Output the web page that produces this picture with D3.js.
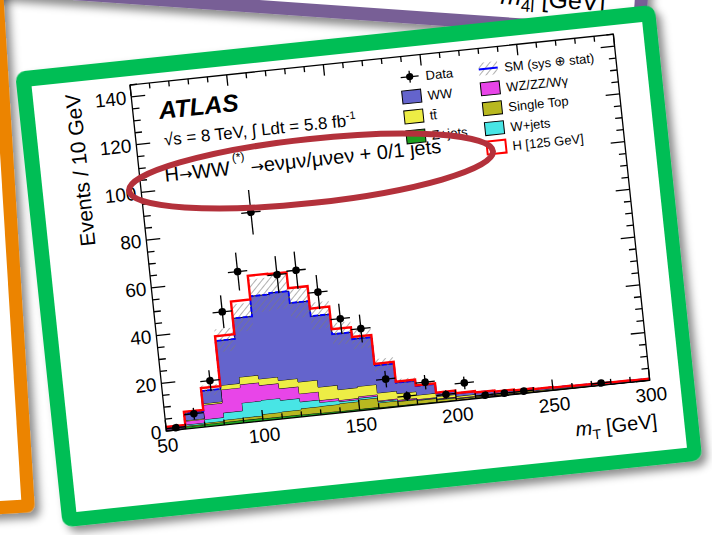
<!DOCTYPE html>
<html>
<head>
<meta charset="utf-8">
<script src="https://cdn.jsdelivr.net/npm/d3@7"></script>
<style>
body{margin:0;background:#fff;overflow:hidden;}
text{font-family:'Liberation Sans',Arial,Helvetica,sans-serif;}
</style>
</head>
<body>
<script>
// m_T bins, 10 GeV wide (low edges)
const binLow = [50,60,70,80,90,100,110,120,130,140,150,160,170,180,190,200,210,220,230,240,250,260,270,280,290];
// backgrounds, bottom of the stack first
const zjets     = [0.3,1.0,1.2,1.2,1.2,1.0,1.0,0.9,0.8,0.7,0.7,0.5,0.5,0.4,0.3,0.2,0.2,0.15,0.1,0.1,0.08,0.07,0.06,0.05,0.05];
const singleTop = [0.1,0.3,0.5,0.9,1.0,1.8,2.0,2.6,2.8,3.2,3.9,2.0,1.7,1.4,0.9,0.6,0.4,0.35,0.3,0.2,0.17,0.13,0.09,0.07,0.05];
const wjets     = [0.2,0.5,1.5,3.0,6.2,5.9,4.8,2.8,1.6,0.8,0.7,0.5,0.2,0.2,0.2,0.1,0.1,0.05,0.05,0.05,0.05,0.02,0.02,0.02,0.02];
const wzzz      = [0.3,1.5,6.0,9.7,7.7,6.2,4.9,3.4,0.9,0.6,0.7,0.4,0.4,0.3,0.2,0.2,0.1,0.1,0.05,0.05,0.05,0.03,0.03,0.02,0.02];
const ttbar     = [0.1,0.3,0.6,1.8,3.1,2.7,3.4,4.9,5.5,4.4,4.2,3.2,2.7,1.7,1.0,0.7,0.6,0.45,0.4,0.3,0.25,0.25,0.2,0.14,0.11];
const ww        = [0.6,3.0,5.3,18.6,24.6,34.6,36.6,33.1,29.7,23.2,19.8,11.5,4.5,3.8,1.4,1.2,1.1,0.9,0.8,0.7,0.6,0.5,0.5,0.5,0.45];
const higgs     = [0.1,0.6,1.2,2.0,7.1,8.6,7.9,6.2,3.2,2.1,0.9,0.7,0.5,0.3,0.2,0.1,0.05,0.05,0,0,0,0,0,0,0];
const smErr     = [0.3,1.0,2.2,4.8,5.8,7.0,7.1,6.5,5.6,4.6,4.2,2.6,1.5,1.2,0.7,0.5,0.45,0.4,0.35,0.3,0.3,0.25,0.25,0.2,0.2];
const dataCounts = [1,6,19,47,63,87,60,61,51,39,34,12,4,9,3,7,1,1,1,0,0,0,1,0,0];

const xTicks = [50,100,150,200,250,300];
const yTicks = [0,20,40,60,80,100,120,140];

const stackKeys = ['zjets','singleTop','wjets','wzzz','ttbar','ww'];
const colors = {zjets:'#1f9f1f', singleTop:'#b8b820', wjets:'#48e5e5', wzzz:'#e845e8', ttbar:'#eded45', ww:'#6464cc'};
const legendCol1 = ['Data','WW','tt\u0304','Z+jets'];
const legendCol2 = ['SM (sys \u2295 stat)','WZ/ZZ/W\u03b3','Single Top','W+jets','H [125 GeV]'];

const W = 712, H = 535;
const svg = d3.select('body').append('svg').attr('width', W).attr('height', H);
const defs = svg.append('defs');

const shadow = defs.append('filter').attr('id','shadow')
    .attr('x','-20%').attr('y','-20%').attr('width','140%').attr('height','140%');
shadow.append('feDropShadow').attr('dx',5).attr('dy',6).attr('stdDeviation',4)
    .attr('flood-color','#000').attr('flood-opacity',0.45);

const hatch = defs.append('pattern').attr('id','hatch').attr('patternUnits','userSpaceOnUse')
    .attr('width',5).attr('height',5).attr('patternTransform','rotate(45)');
hatch.append('line').attr('x1',0).attr('y1',0).attr('x2',0).attr('y2',5)
    .attr('stroke','#7a7a7a').attr('stroke-width',1.2);

//---- purple frame behind (only its lower part shows)
const purple = svg.append('g').attr('transform','translate(645,40) rotate(4)');
purple.append('rect').attr('x',-760).attr('y',-300).attr('width',760).attr('height',300)
    .attr('rx',8).attr('fill','#785f96').attr('filter','url(#shadow)');
purple.append('rect').attr('x',-747).attr('y',-287).attr('width',734).attr('height',274).attr('fill','#fff');
const m4l = purple.append('text').attr('x',-42).attr('y',-26).attr('text-anchor','end')
    .attr('font-size',25).attr('fill','#000');
m4l.append('tspan').attr('font-style','italic').text('m');
m4l.append('tspan').attr('font-size',17).attr('dy',6).text('4l');
m4l.append('tspan').attr('dy',-6).text(' [GeV]');

//---- orange frame on the left
const orange = svg.append('g').attr('transform','translate(35,512) rotate(-3.5)');
orange.append('rect').attr('x',-600).attr('y',-700).attr('width',600).attr('height',700)
    .attr('rx',8).attr('fill','#ec8400').attr('filter','url(#shadow)');
orange.append('rect').attr('x',-587).attr('y',-687).attr('width',574).attr('height',674).attr('fill','#fff');

//---- green frame with the plot, rotated
const plotW = 486, plotH = 348;
const g = svg.append('g').attr('transform','translate(130,85) rotate(-6)');
g.append('rect').attr('x',-113).attr('y',-25).attr('width',643).attr('height',458)
    .attr('rx',10).attr('fill','#00be55').attr('filter','url(#shadow)');
g.append('rect').attr('x',-98).attr('y',-9).attr('width',614).attr('height',428).attr('fill','#fff');

const x = d3.scaleLinear().domain([50,300]).range([0,plotW]);
const y = d3.scaleLinear().domain([0,145]).range([plotH,0]);

const rows = binLow.map((b,i) => ({x:b, zjets:zjets[i], singleTop:singleTop[i], wjets:wjets[i],
    wzzz:wzzz[i], ttbar:ttbar[i], ww:ww[i], higgs:higgs[i], err:smErr[i], data:dataCounts[i]}));
const series = d3.stack().keys(stackKeys)(rows);

// add closing point at the upper edge of the last bin
function closeSteps(pts){ const last = pts[pts.length-1]; return pts.concat([Object.assign({}, last, {x:300})]); }

const area = d3.area().curve(d3.curveStepAfter).x(d => x(d.x)).y0(d => y(d.lo)).y1(d => y(d.hi));
const line = d3.line().curve(d3.curveStepAfter).x(d => x(d.x)).y(d => y(d.v));

const hist = g.append('g');
series.forEach(s => {
    const pts = closeSteps(s.map((d,i) => ({x:binLow[i], lo:d[0], hi:d[1], v:d[1]})));
    hist.append('path').attr('d', area(pts)).attr('fill', colors[s.key]);
    hist.append('path').attr('d', line(pts)).attr('fill','none').attr('stroke','#000').attr('stroke-width',0.9);
});

const smTop = series[series.length-1].map(d => d[1]);
const band = closeSteps(rows.map((r,i) => ({x:r.x, lo:Math.max(0,smTop[i]-r.err), hi:smTop[i]+r.err})));
hist.append('path').attr('d', area(band)).attr('fill','url(#hatch)');
const smPts = closeSteps(rows.map((r,i) => ({x:r.x, v:smTop[i]})));
hist.append('path').attr('d', line(smPts)).attr('fill','none').attr('stroke','#0000ff')
    .attr('stroke-width',1.8).attr('stroke-dasharray','5,2');
const totPts = closeSteps(rows.map((r,i) => ({x:r.x, v:smTop[i]+r.higgs})));
hist.append('path').attr('d', line(totPts)).attr('fill','none').attr('stroke','#ff0000').attr('stroke-width',2.4);

// data points
const pts = g.append('g').selectAll('g').data(rows.filter(r => r.data > 0)).enter().append('g');
pts.append('line').attr('x1', d => x(d.x)).attr('x2', d => x(d.x+10))
    .attr('y1', d => y(d.data)).attr('y2', d => y(d.data)).attr('stroke','#000').attr('stroke-width',1.3);
pts.append('line').attr('x1', d => x(d.x+5)).attr('x2', d => x(d.x+5))
    .attr('y1', d => y(d.data - Math.sqrt(d.data))).attr('y2', d => y(d.data + Math.sqrt(d.data)))
    .attr('stroke','#000').attr('stroke-width',1.3);
pts.append('circle').attr('cx', d => x(d.x+5)).attr('cy', d => y(d.data)).attr('r',3.8).attr('fill','#000');

// frame and ticks
const ax = g.append('g').attr('stroke','#000').attr('stroke-width',1.3);
ax.append('rect').attr('width',plotW).attr('height',plotH).attr('fill','none');
d3.range(50,301,10).forEach(v => {
    const len = v % 50 === 0 ? 11 : 5.5;
    ax.append('line').attr('x1',x(v)).attr('x2',x(v)).attr('y1',plotH).attr('y2',plotH-len);
    ax.append('line').attr('x1',x(v)).attr('x2',x(v)).attr('y1',0).attr('y2',len);
});
d3.range(0,146,5).forEach(v => {
    const len = v % 20 === 0 ? 14 : 7;
    ax.append('line').attr('x1',0).attr('x2',len).attr('y1',y(v)).attr('y2',y(v));
    ax.append('line').attr('x1',plotW).attr('x2',plotW-len).attr('y1',y(v)).attr('y2',y(v));
});

g.selectAll('.xl').data(xTicks).enter().append('text').attr('class','xl')
    .attr('x', d => x(d)).attr('y', plotH+21).attr('text-anchor','middle').attr('font-size',19).text(d => d);
g.selectAll('.yl').data(yTicks).enter().append('text').attr('class','yl')
    .attr('x', -5).attr('y', d => y(d)+7).attr('text-anchor','end').attr('font-size',19).text(d => d);

g.append('text').attr('transform','translate(-51,3) rotate(-90)').attr('text-anchor','end')
    .attr('font-size',21).text('Events / 10 GeV');
const xt = g.append('text').attr('x',489).attr('y',396).attr('text-anchor','end').attr('font-size',20);
xt.append('tspan').attr('font-style','italic').text('m');
xt.append('tspan').attr('font-size',14).attr('dy',5).text('T');
xt.append('tspan').attr('dy',-5).text(' [GeV]');

// labels
g.append('text').attr('x',26).attr('y',37).attr('font-size',24.5).attr('font-weight','bold')
    .attr('font-style','italic').text('ATLAS');
const l2 = g.append('text').attr('x',28).attr('y',64).attr('font-size',17);
l2.append('tspan').text('\u221As = 8 TeV, \u222B Ldt = 5.8 fb');
l2.append('tspan').attr('font-size',11).attr('dy',-7).text('-1');
const l3 = g.append('text').attr('x',25).attr('y',100).attr('font-size',20);
l3.append('tspan').text('H');
l3.append('tspan').attr('font-family','DejaVu Sans').attr('font-size',16).text('\u2192');
l3.append('tspan').text('WW');
l3.append('tspan').attr('font-size',12).attr('dy',-13).attr('dx',3).text('(*)');
l3.append('tspan').attr('dy',13).attr('dx',5).attr('font-family','DejaVu Sans').attr('font-size',16).text('\u2192');
l3.append('tspan').text('e\u03bd\u03bc\u03bd/\u03bc\u03bde\u03bd + 0/1 jets');

// legend
const leg = g.append('g');
const rowY = [21,41,61,81,100];
const boxFill1 = [null, colors.ww, colors.ttbar, colors.zjets];
legendCol1.forEach((t,i) => {
    const cx = 279, cy = rowY[i];
    if (i === 0) {
        leg.append('line').attr('x1',cx-9).attr('x2',cx+9).attr('y1',cy).attr('y2',cy).attr('stroke','#000').attr('stroke-width',1.3);
        leg.append('line').attr('x1',cx).attr('x2',cx).attr('y1',cy-6).attr('y2',cy+6).attr('stroke','#000').attr('stroke-width',1.3);
        leg.append('circle').attr('cx',cx).attr('cy',cy).attr('r',3.6).attr('fill','#000');
    } else {
        leg.append('rect').attr('x',cx-9.5).attr('y',cy-6.5).attr('width',19).attr('height',13)
            .attr('fill',boxFill1[i]).attr('stroke','#000').attr('stroke-width',1);
    }
    leg.append('text').attr('x',cx+16).attr('y',cy+5).attr('font-size',13).text(t);
});
const boxFill2 = [null, colors.wzzz, colors.singleTop, colors.wjets, '#fff'];
legendCol2.forEach((t,i) => {
    const cx = 358, cy = rowY[i];
    if (i === 0) {
        leg.append('rect').attr('x',cx-9.5).attr('y',cy-6.5).attr('width',19).attr('height',13).attr('fill','url(#hatch)');
        leg.append('line').attr('x1',cx-9.5).attr('x2',cx+9.5).attr('y1',cy).attr('y2',cy).attr('stroke','#0000ff').attr('stroke-width',2);
    } else if (i === 4) {
        leg.append('rect').attr('x',cx-9.5).attr('y',cy-6.5).attr('width',19).attr('height',13)
            .attr('fill','#fff').attr('stroke','#ff0000').attr('stroke-width',2);
    } else {
        leg.append('rect').attr('x',cx-9.5).attr('y',cy-6.5).attr('width',19).attr('height',13)
            .attr('fill',boxFill2[i]).attr('stroke','#000').attr('stroke-width',1);
    }
    leg.append('text').attr('x',cx+16).attr('y',cy+5).attr('font-size',13).text(t);
});

//---- red annotation ellipse
svg.append('ellipse').attr('cx',311).attr('cy',171).attr('rx',183).attr('ry',32)
    .attr('transform','rotate(-6.2,311,171)').attr('fill','none')
    .attr('stroke','#b3313b').attr('stroke-width',6);
</script>
</body>
</html>
